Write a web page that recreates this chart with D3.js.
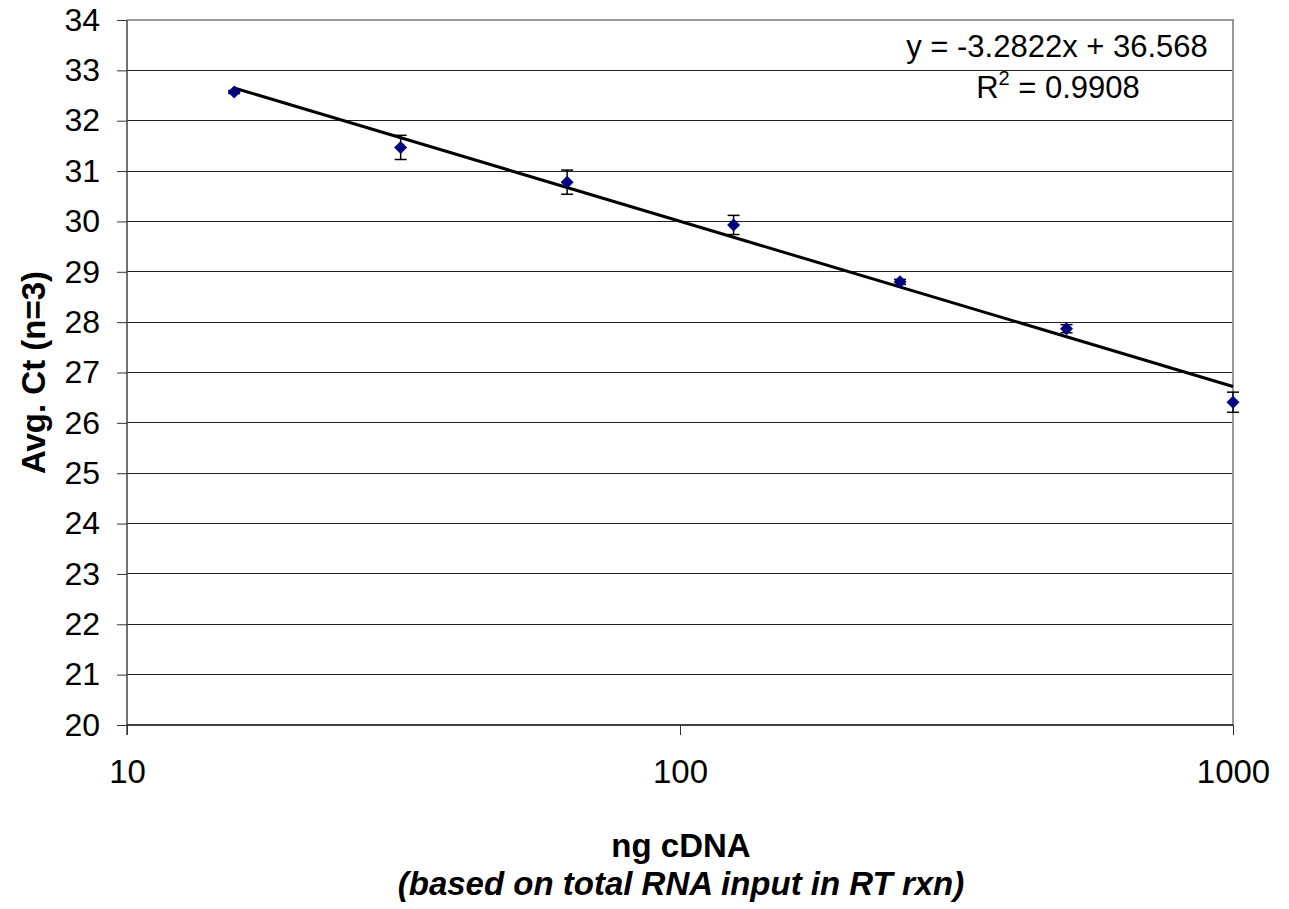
<!DOCTYPE html>
<html><head><meta charset="utf-8">
<script src="https://cdn.jsdelivr.net/npm/d3@7"></script>
<style>body{margin:0;background:#fff;}svg{display:block;font-family:"Liberation Sans",Arial,sans-serif;}</style>
</head><body>
<svg id="c" width="1289" height="909"></svg>
<script>
const ngInput = [15.625, 31.25, 62.5, 125, 250, 500, 1000];
const avgCt   = [32.57, 31.47, 30.78, 29.93, 28.80, 27.87, 26.41];
const ctErr   = [0.03, 0.24, 0.24, 0.19, 0.05, 0.08, 0.20];
const yTicks  = [20,21,22,23,24,25,26,27,28,29,30,31,32,33,34];
const xTicks  = [10, 100, 1000];
const trendSlope = -3.2822, trendIntercept = 36.568;
const eqLabel = "y = -3.2822x + 36.568";
const r2Value = "0.9908";

const FONT = "Liberation Sans, Arial, sans-serif";
const L = 127, R = 1233, T = 20, B = 725;
const svg = d3.select("#c");
const x = d3.scaleLog().domain([10, 1000]).range([L, R]);
const y = d3.scaleLinear().domain([20, 34]).range([B, T]);

// gridlines
svg.append("g").selectAll("line").data(yTicks.filter(v => v > 20)).join("line")
  .attr("x1", L).attr("x2", R).attr("y1", d => y(d)).attr("y2", d => y(d))
  .attr("stroke", "#222").attr("stroke-width", 1).attr("shape-rendering", "crispEdges");

// plot border (top/right gray)
svg.append("path").attr("d", `M${L},${T}H${R}V${B}`).attr("fill", "none")
  .attr("stroke", "#999").attr("stroke-width", 1.5).attr("shape-rendering", "crispEdges");

// y axis
const ya = d3.axisLeft(y).tickValues(yTicks).tickSize(10).tickPadding(17).tickFormat(d3.format("d"));
const gy = svg.append("g").attr("transform", `translate(${L},0)`).call(ya);
gy.attr("font-size", null).attr("font-family", null);
gy.select(".domain").attr("stroke", "#444").attr("stroke-width", 1.5).attr("d", `M0,${T}V${B + 10}`);
gy.selectAll(".tick line").attr("stroke", "#333");
gy.selectAll("text").style("font-size", "32px").attr("fill", "#000").style("font-family", FONT);

// x axis
const xa = d3.axisBottom(x).tickValues(xTicks).tickSize(10).tickPadding(25).tickFormat(d3.format("d"));
const gx = svg.append("g").attr("transform", `translate(0,${B})`).call(xa);
gx.attr("font-size", null).attr("font-family", null);
gx.select(".domain").attr("stroke", "#000").attr("stroke-width", 1.5).attr("d", `M${L},0H${R}`);
gx.selectAll(".tick line").attr("stroke", "#333");
gx.selectAll("text").style("font-size", "33px").attr("fill", "#000").style("font-family", FONT);

// trendline
const xs = [ngInput[0], ngInput[ngInput.length - 1]];
svg.append("line")
  .attr("x1", x(xs[0])).attr("y1", y(trendSlope * Math.log10(xs[0]) + trendIntercept))
  .attr("x2", x(xs[1])).attr("y2", y(trendSlope * Math.log10(xs[1]) + trendIntercept))
  .attr("stroke", "#000").attr("stroke-width", 3);

// error bars
const eb = svg.append("g").attr("stroke", "#000").attr("stroke-width", 1.5);
ngInput.forEach((v, i) => {
  const cx = x(v), y1 = y(avgCt[i] + ctErr[i]), y2 = y(avgCt[i] - ctErr[i]);
  eb.append("line").attr("x1", cx).attr("x2", cx).attr("y1", y1).attr("y2", y2);
  eb.append("line").attr("x1", cx - 6).attr("x2", cx + 6).attr("y1", y1).attr("y2", y1);
  eb.append("line").attr("x1", cx - 6).attr("x2", cx + 6).attr("y1", y2).attr("y2", y2);
});

// markers
svg.append("g").selectAll("path").data(ngInput).join("path")
  .attr("transform", (d, i) => `translate(${x(d)},${y(avgCt[i])})`)
  .attr("d", "M0,-6.5L6.5,0L0,6.5L-6.5,0Z")
  .attr("fill", "#000080");

// equation
svg.append("text").attr("x", 1057).attr("y", 57).attr("text-anchor", "middle")
  .style("font-size", "31px").text(eqLabel);
const r2 = svg.append("text").attr("x", 1058).attr("y", 98).attr("text-anchor", "middle").style("font-size", "31px");
r2.append("tspan").text("R");
r2.append("tspan").style("font-size", "20px").attr("dy", -13).text("2");
r2.append("tspan").attr("dy", 13).text(" = " + r2Value);

// axis titles
svg.append("text").attr("transform", `translate(45,${(T + B) / 2}) rotate(-90)`)
  .attr("text-anchor", "middle").style("font-size", "33px").attr("font-weight", "bold").text("Avg. Ct (n=3)");
svg.append("text").attr("x", 681).attr("y", 857).attr("text-anchor", "middle")
  .style("font-size", "33px").attr("font-weight", "bold").text("ng cDNA");
svg.append("text").attr("x", 681).attr("y", 895).attr("text-anchor", "middle")
  .style("font-size", "33px").attr("font-weight", "bold").attr("font-style", "italic")
  .text("(based on total RNA input in RT rxn)");
</script>
</body></html>
